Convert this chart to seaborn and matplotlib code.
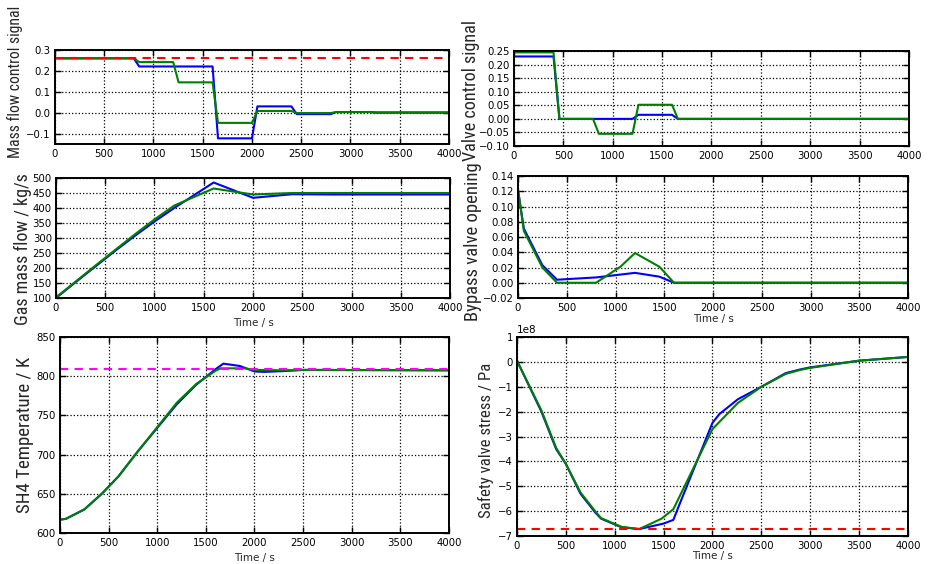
import os
import matplotlib
matplotlib.use("Agg")
import matplotlib.pyplot as plt
from matplotlib import font_manager
import seaborn as sns

# ---------------------------------------------------------------- data
# Mass flow control signal (step changes every 400 s)
ctrl_time = [0, 800, 855, 1200, 1255, 1600, 1655, 2000, 2055, 2400, 2455, 2800, 2855, 3200, 3255, 4000]
mass_ctrl_blue = [0.26, 0.26, 0.221, 0.221, 0.221, 0.221, -0.123, -0.123, 0.03, 0.03,
                  -0.007, -0.007, 0.003, 0.003, 0.001, 0.001]
mass_ctrl_green = [0.26, 0.26, 0.242, 0.242, 0.145, 0.145, -0.049, -0.049, 0.008, 0.008,
                   -0.002, -0.002, 0.003, 0.003, 0.0, 0.0]
mass_ctrl_limit = 0.26

# Valve control signal
valve_time = [0, 400, 460, 800, 860, 1200, 1260, 1600, 1660, 4000]
valve_blue = [0.23, 0.23, 0.0, 0.0, 0.0, 0.0, 0.015, 0.015, 0.0, 0.0]
valve_green = [0.245, 0.245, 0.0, 0.0, -0.055, -0.055, 0.052, 0.052, 0.0, 0.0]

# Gas mass flow / kg/s
flow_time_blue = [0, 200, 400, 600, 800, 1000, 1200, 1600, 2000, 2400, 2800, 4000]
flow_blue = [100, 153, 205, 257, 307, 355, 400, 485, 434, 446, 445, 445]
flow_time_green = [0, 400, 800, 1000, 1200, 1600, 2000, 2400, 4000]
flow_green = [102, 208, 312, 362, 408, 465, 445, 450, 450]

# Bypass valve opening
bypass_time_blue = [0, 60, 250, 400, 800, 1000, 1200, 1450, 1600, 4000]
bypass_blue = [0.121, 0.071, 0.023, 0.004, 0.007, 0.010, 0.013, 0.008, 0.0, 0.0]
bypass_time_green = [0, 60, 250, 400, 800, 1050, 1200, 1450, 1600, 4000]
bypass_green = [0.123, 0.068, 0.020, 0.0, 0.0, 0.021, 0.039, 0.021, 0.0, 0.0]

# SH4 temperature / K
temp_time_blue = [0, 60, 250, 430, 600, 800, 1000, 1200, 1400, 1600, 1680, 1850, 2000, 2100, 2300, 2500, 4000]
temp_blue = [617, 618, 630, 650, 672, 704, 734, 764, 789, 809, 816, 813, 806, 805.5, 806.5, 808, 807.5]
temp_time_green = [0, 60, 250, 430, 600, 800, 1000, 1200, 1400, 1600, 1650, 1900, 2000, 2300, 2500, 4000]
temp_green = [617, 618, 630, 650, 672, 704, 735, 766, 790, 807, 810, 810, 808, 807.5, 808, 807.5]
temp_setpoint = 809

# Safety valve stress / Pa
stress_time_blue = [0, 250, 400, 500, 650, 800, 860, 1070, 1250, 1500, 1600, 1650, 2000, 2070,
                    2260, 2500, 2750, 2900, 3000, 3500, 4000]
stress_blue = [0.05e8, -2.0e8, -3.5e8, -4.1e8, -5.3e8, -6.05e8, -6.3e8, -6.65e8, -6.72e8, -6.5e8,
               -6.35e8, -5.85e8, -2.45e8, -2.1e8, -1.5e8, -1.0e8, -0.45e8, -0.3e8, -0.22e8, 0.05e8, 0.2e8]
stress_time_green = [0, 250, 400, 500, 650, 800, 860, 1070, 1250, 1480, 1600, 2000, 2260, 2500,
                     2750, 2900, 3000, 3500, 4000]
stress_green = [0.05e8, -1.95e8, -3.45e8, -4.1e8, -5.25e8, -6.0e8, -6.28e8, -6.63e8, -6.72e8, -6.3e8,
                -5.92e8, -2.7e8, -1.65e8, -1.0e8, -0.48e8, -0.32e8, -0.24e8, 0.05e8, 0.2e8]
stress_limit = -6.72e8

time_ticks = list(range(0, 4001, 500))

# ---------------------------------------------------------------- style
sns.set_style("ticks", {
    "axes.edgecolor": "black",
    "axes.linewidth": 1.4,
    "xtick.direction": "in",
    "ytick.direction": "in",
    "xtick.top": True,
    "ytick.right": True,
    "xtick.color": "black",
    "ytick.color": "black",
    "axes.grid": True,
    "grid.color": "black",
    "grid.linestyle": ":",
})
plt.rcParams.update({
    "font.family": ["DejaVu Sans"],
    "xtick.labelsize": 7.3,
    "ytick.labelsize": 7.3,
    "axes.labelsize": 7.5,
    "xtick.major.size": 4,
    "ytick.major.size": 4,
    "xtick.major.width": 1.0,
    "ytick.major.width": 1.0,
    "xtick.major.pad": 3.5,
    "ytick.major.pad": 3,
    "grid.linewidth": 0.9,
    "axes.axisbelow": True,
    "axes.unicode_minus": True,
})


def narrow_font_file():
    """Return the file of a narrow/condensed sans face for the y labels, if one is installed."""
    files = [e.fname for e in font_manager.fontManager.ttflist]
    preferred = ["liberationsansnarrow-regular", "robotocondensed-regular", "notosans-condensed.",
                 "notosans-condensedregular", "opensans_condensed-regular", "opensans-condensed",
                 "dejavusanscondensed."]
    for key in preferred:
        for f in files:
            if key in os.path.basename(f).lower():
                return f
    skip = ("bold", "italic", "oblique", "light", "thin", "medium", "black", "semi", "extra", "heavy")
    for f in files:
        name = os.path.basename(f).lower()
        if ("narrow" in name or "condensed" in name) and "sans" in name and not any(s in name for s in skip):
            return f
    return None


NARROW_FILE = narrow_font_file()
BLUE = (0.0, 0.0, 1.0)
GREEN = (0.0, 0.5, 0.0)

fig = plt.figure(figsize=(9.3, 5.64), dpi=100)
ylabels = []


def panel(rect, series, ylim, yticks, ylabel, label_len, label_xy, ref=None, xlabel=None, xpad=4.0):
    ax = fig.add_axes(rect)
    for t, v, c in series:
        sns.lineplot(x=t, y=v, ax=ax, color=c, lw=1.5, estimator=None, sort=False)
    if ref is not None:
        value, col = ref
        ax.axhline(value, color=col, lw=1.5, ls=(0, (4, 3)))
    ax.set_xlim(0, 4000)
    ax.set_xticks(time_ticks)
    ax.set_ylim(*ylim)
    ax.set_yticks(yticks)
    ax.grid(True, ls=":", color="black", lw=0.9)
    if NARROW_FILE:
        fp = font_manager.FontProperties(fname=NARROW_FILE, size=13)
    else:
        fp = font_manager.FontProperties(family="DejaVu Sans", size=13)
    lab = ax.set_ylabel(ylabel, fontproperties=fp)
    ax.yaxis.set_label_coords(*label_xy)
    ylabels.append((lab, label_len))
    if xlabel:
        ax.set_xlabel(xlabel, fontsize=7.5, labelpad=xpad)
    else:
        ax.set_xlabel("")
    for sp in ax.spines.values():
        sp.set_visible(True)
        sp.set_linewidth(1.4)
        sp.set_zorder(5)
    return ax


panel([0.0591, 0.7447, 0.4237, 0.1667],
      [(ctrl_time, mass_ctrl_blue, BLUE), (ctrl_time, mass_ctrl_green, GREEN)],
      (-0.15, 0.3), [-0.1, 0.0, 0.1, 0.2, 0.3],
      "Mass flow control signal", 152, (-0.081, 0.66), ref=(mass_ctrl_limit, "red"))

panel([0.5527, 0.7411, 0.4247, 0.1684],
      [(valve_time, valve_blue, BLUE), (valve_time, valve_green, GREEN)],
      (-0.10, 0.25), [-0.10, -0.05, 0.0, 0.05, 0.10, 0.15, 0.20, 0.25],
      "Valve control signal", 140, (-0.086, 0.58))

panel([0.0602, 0.4716, 0.4237, 0.2128],
      [(flow_time_blue, flow_blue, BLUE), (flow_time_green, flow_green, GREEN)],
      (100, 500), list(range(100, 501, 50)),
      "Gas mass flow / kg/s", 152, (-0.061, 0.41), xlabel="Time / s", xpad=4.0)

panel([0.5570, 0.4716, 0.4194, 0.2163],
      [(bypass_time_blue, bypass_blue, BLUE), (bypass_time_green, bypass_green, GREEN)],
      (-0.02, 0.14), [-0.02, 0.0, 0.02, 0.04, 0.06, 0.08, 0.10, 0.12, 0.14],
      "Bypass valve opening", 158, (-0.092, 0.46), xlabel="Time / s", xpad=0.5)

panel([0.0645, 0.0550, 0.4183, 0.3475],
      [(temp_time_blue, temp_blue, BLUE), (temp_time_green, temp_green, GREEN)],
      (600, 850), list(range(600, 851, 50)),
      "SH4 Temperature / K", 155, (-0.067, 0.50), ref=(temp_setpoint, "magenta"),
      xlabel="Time / s", xpad=3.5)

ax6 = panel([0.5559, 0.0496, 0.4204, 0.3528],
            [(stress_time_blue, stress_blue, BLUE), (stress_time_green, stress_green, GREEN)],
            (-7e8, 1e8), [i * 1e8 for i in range(-7, 2)],
            "Safety valve stress / Pa", 155, (-0.059, 0.48), ref=(stress_limit, "red"),
            xlabel="Time / s", xpad=0.3)
ax6.yaxis.get_offset_text().set_fontsize(7.5)

# size each rotated y label so that its length fits the span it covers
fig.canvas.draw()
renderer = fig.canvas.get_renderer()
for lab, length in ylabels:
    cur = lab.get_window_extent(renderer).height
    lab.set_fontsize(lab.get_fontsize() * length / cur)

fig.savefig("out.png", dpi=100)
